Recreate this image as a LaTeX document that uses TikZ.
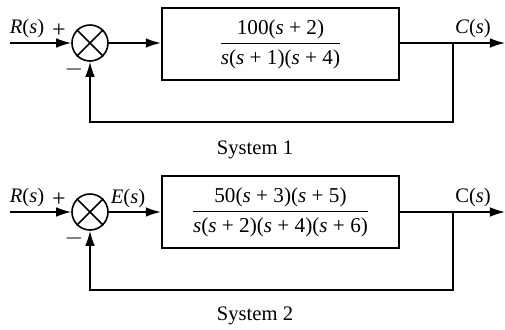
\documentclass[tikz,border=0pt]{standalone}
\usepackage{fontspec}
\setmainfont{Liberation Serif}
\usetikzlibrary{arrows.meta}
\newcommand{\vs}{\textit{s}}
\begin{document}
\begin{tikzpicture}[x=0.5pt,y=-0.5pt,font=\fontsize{10.3}{12}\selectfont]
\tikzset{
 blk/.style={draw, line width=1.2pt, minimum width=118.5pt, minimum height=36pt, inner sep=0pt, font=\fontsize{10.6}{12}\selectfont},
 sumj/.style={draw, circle, line width=0.8pt, minimum size=18pt, inner sep=0pt},
 sig/.style={line width=0.75pt},
 arr/.style={sig, -{Latex[length=7.5pt,width=4.8pt]}},
 lbl/.style={inner sep=0pt},
 sgn/.style={inner sep=0pt, font=\fontsize{12}{12}\selectfont}
}
\useasboundingbox (0,0) rectangle (505,329);

% ---------- System 1 ----------
\node[sumj] (s1) at (90,43) {};
\draw[sig] (s1.north west) -- (s1.south east) (s1.north east) -- (s1.south west);
\node[blk] (g1) at (280.5,44) {$\displaystyle\frac{\mbox{100(\vs{} + 2)}}{\mbox{\vs(\vs{} + 1)(\vs{} + 4)}}$};
\coordinate (in1) at (10,43);
\coordinate (out1) at (505,43);
\coordinate (br1) at (453,43);
\coordinate (fb1) at (453,122);
\draw[arr] (in1) -- (s1.west);
\draw[arr] (s1.east) -- (s1.east -| g1.west);
\draw[arr] (g1.east |- out1) -- (out1);
\draw[arr] (br1) -- (fb1) -| (s1.south);
\node[lbl] (r1) at (27,29) {\textit{R}(\vs)};
\node[sgn] (p1) at (59,31) {+};
\node[sgn] (m1) at (74,69) {$-$};
\node[lbl] (c1) at (473,29) {\textit{C}(\vs)};
\node[lbl] (t1) at (255,150) {System 1};

% ---------- System 2 ----------
\node[sumj] (s2) at (90,212) {};
\draw[sig] (s2.north west) -- (s2.south east) (s2.north east) -- (s2.south west);
\node[blk] (g2) at (280.5,212) {$\displaystyle\frac{\mbox{50(\vs{} + 3)(\vs{} + 5)}}{\mbox{\vs(\vs{} + 2)(\vs{} + 4)(\vs{} + 6)}}$};
\coordinate (in2) at (10,212);
\coordinate (out2) at (505,212);
\coordinate (br2) at (453,212);
\coordinate (fb2) at (453,290);
\draw[arr] (in2) -- (s2.west);
\draw[arr] (s2.east) -- (s2.east -| g2.west);
\draw[arr] (g2.east |- out2) -- (out2);
\draw[arr] (br2) -- (fb2) -| (s2.south);
\node[lbl] (r2) at (27,198) {\textit{R}(\vs)};
\node[sgn] (p2) at (59,200) {+};
\node[sgn] (m2) at (74,238) {$-$};
\node[lbl] (e2) at (128,199) {\textit{E}(\vs)};
\node[lbl] (c2) at (473,198) {C(\vs)};
\node[lbl] (t2) at (255,316) {System 2};
\end{tikzpicture}
\end{document}
